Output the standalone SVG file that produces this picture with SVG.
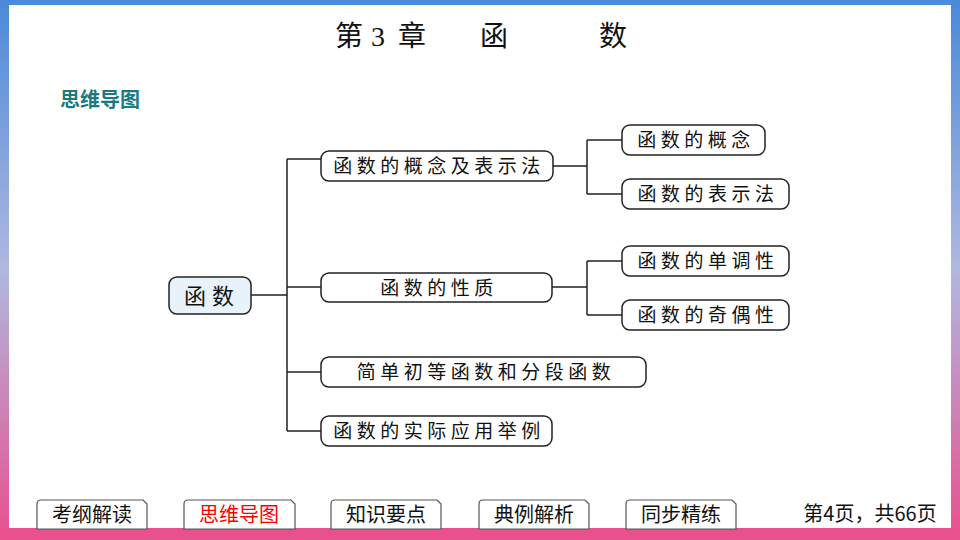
<svg xmlns="http://www.w3.org/2000/svg" width="960" height="540" viewBox="0 0 960 540">
<defs>
<linearGradient id="fr" x1="0" y1="0" x2="0" y2="1">
<stop offset="0" stop-color="#4a8ad8"/><stop offset="0.5" stop-color="#b0b8e0"/><stop offset="1" stop-color="#e8508e"/>
</linearGradient>
<style>
.n{fill:#fff;stroke:#222;stroke-width:1.5}
.t{font-family:"Noto Sans CJK SC",sans-serif;font-size:19px;fill:#111;text-anchor:middle;letter-spacing:4.5px}
.c{fill:none;stroke:#222;stroke-width:1.5}
.b{fill:#fff;stroke:#555;stroke-width:1.2}
.bt{font-family:"Noto Sans CJK SC",sans-serif;font-size:20px;fill:#111;text-anchor:middle}
.ti{font-family:"Liberation Serif","Noto Sans CJK SC",serif;font-size:28px;fill:#111;text-anchor:middle}
</style>
</defs>
<rect width="960" height="540" fill="url(#fr)"/>
<rect x="9" y="5" width="942" height="523" fill="#fff"/>
<rect x="0" y="528" width="960" height="12" fill="#e8508e"/>
<g>
<text class="ti" x="349" y="46">第</text><text class="ti" x="378" y="46">3</text><text class="ti" x="412" y="46">章</text>
<text class="ti" x="494" y="46">函</text><text class="ti" x="613" y="46">数</text>
</g>
<text x="60" y="107" font-family="Noto Sans CJK SC,sans-serif" font-size="20" font-weight="bold" fill="#1a7a80">思维导图</text>
<g id="connectors">
<path class="c" d="M251 295H287M287 159V431M287 159H321M287 287H321M287 372H321M287 431H321"/>
<path class="c" d="M553 166H587M587 140V194M587 140H622M587 194H622"/>
<path class="c" d="M552 287H587M587 261V315M587 261H622M587 315H622"/>
</g>
<g id="root"><rect x="169" y="277" width="82" height="37" rx="8" class="n" style="fill:#e8f2fb"/><text class="t" x="212" y="304" style="font-size:22px;letter-spacing:6px">函数</text></g>
<g id="a"><rect x="321" y="151" width="232" height="30" rx="8" class="n"/><text class="t" x="439" y="173">函数的概念及表示法</text></g>
<g id="a1"><rect x="622" y="125" width="143" height="30" rx="8" class="n"/><text class="t" x="696" y="147">函数的概念</text></g>
<g id="a2"><rect x="622" y="179" width="167" height="30" rx="8" class="n"/><text class="t" x="708" y="201">函数的表示法</text></g>
<g id="b"><rect x="321" y="273" width="231" height="29" rx="8" class="n"/><text class="t" x="439" y="295">函数的性质</text></g>
<g id="b1"><rect x="622" y="246" width="167" height="30" rx="8" class="n"/><text class="t" x="708" y="268">函数的单调性</text></g>
<g id="b2"><rect x="622" y="300" width="167" height="30" rx="8" class="n"/><text class="t" x="708" y="322">函数的奇偶性</text></g>
<g id="c"><rect x="321" y="357" width="325" height="30" rx="8" class="n"/><text class="t" x="486" y="379">简单初等函数和分段函数</text></g>
<g id="d"><rect x="321" y="416" width="231" height="30" rx="8" class="n"/><text class="t" x="439" y="438">函数的实际应用举例</text></g>
<g id="nav">
<path class="b" d="M37 529V504Q37 500 41 500H143L147 504V529Z"/><text class="bt" x="92" y="522">考纲解读</text>
<path class="b" d="M184 529V504Q184 500 188 500H291L295 504V529Z"/><text class="bt" x="239" y="522" style="fill:#f00">思维导图</text>
<path class="b" d="M331 529V504Q331 500 335 500H437L441 504V529Z"/><text class="bt" x="386" y="522">知识要点</text>
<path class="b" d="M479 529V504Q479 500 483 500H585L589 504V529Z"/><text class="bt" x="534" y="522">典例解析</text>
<path class="b" d="M626 529V504Q626 500 630 500H732L736 504V529Z"/><text class="bt" x="681" y="522">同步精练</text>
<text class="bt" x="870" y="521">第4页，共66页</text>
</g>
</svg>
